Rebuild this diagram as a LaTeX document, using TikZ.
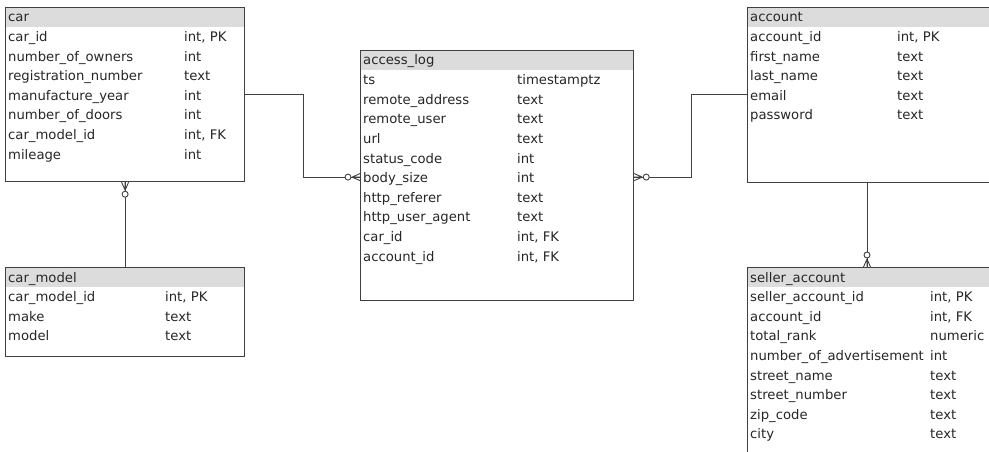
\documentclass[tikz,border=0pt]{standalone}
\usepackage{fontspec}
\setmainfont{DejaVu Sans}
\usepackage{xcolor}
\usetikzlibrary{positioning}

\definecolor{headgray}{HTML}{DCDCDC}
\definecolor{linegray}{HTML}{404040}
\definecolor{textgray}{HTML}{262626}

\tikzset{
  tablebox/.style={draw=linegray, line width=1.2pt, anchor=north west, inner sep=0pt},
  headbar/.style={fill=headgray, anchor=north west, inner sep=0pt, minimum height=20pt},
  field/.style={anchor=base west, inner sep=0pt, text height=13pt, text depth=2pt,
    text=textgray, font=\fontsize{13.2}{16}\selectfont},
  link/.style={draw=linegray, line width=1pt},
  manyend/.pic={
    \draw[linegray, line width=0.9pt] (-8,0) -- (0,-3.5) (-8,0) -- (0,0) (-8,0) -- (0,3.5);
    \draw[linegray, line width=0.9pt, fill=white] (-12,0) circle[radius=3pt];
  }
}

\begin{document}
\begin{tikzpicture}[x=1pt, y=-1pt]
  \useasboundingbox (0,0) rectangle (989,452);
  \clip (0,0) rectangle (989,452);

  % car
  \node[headbar, minimum width=239pt] (car-h) at (5,7) {};
  \node[tablebox, minimum width=239pt, minimum height=174pt] (car) at (5,7) {};
  \node[field] (car-0) at (8,22) {car};
  \foreach \f/\t [count=\i] in {car\_id/{int, PK}, number\_of\_owners/int,
      registration\_number/text, manufacture\_year/int, number\_of\_doors/int,
      car\_model\_id/{int, FK}, mileage/int}
  {
    \node[field] (car-\i) at (8,{22+19.6*\i}) {\f};
    \node[field] (car-\i-t) at (184,{22+19.6*\i}) {\t};
  }

  % car_model
  \node[headbar, minimum width=239pt] (carmodel-h) at (5,267) {};
  \node[tablebox, minimum width=239pt, minimum height=89pt] (carmodel) at (5,267) {};
  \node[field] (carmodel-0) at (8,282) {car\_model};
  \foreach \f/\t [count=\i] in {car\_model\_id/{int, PK}, make/text, model/text}
  {
    \node[field] (carmodel-\i) at (8,{282+19.6*\i}) {\f};
    \node[field] (carmodel-\i-t) at (165,{282+19.6*\i}) {\t};
  }

  % access_log
  \node[headbar, minimum width=273pt] (alog-h) at (360,50) {};
  \node[tablebox, minimum width=273pt, minimum height=250pt] (alog) at (360,50) {};
  \node[field] (alog-0) at (363,65) {access\_log};
  \foreach \f/\t [count=\i] in {ts/timestamptz, remote\_address/text, remote\_user/text,
      url/text, status\_code/int, body\_size/int, http\_referer/text,
      http\_user\_agent/text, car\_id/{int, FK}, account\_id/{int, FK}}
  {
    \node[field] (alog-\i) at (363,{65+19.6*\i}) {\f};
    \node[field] (alog-\i-t) at (517,{65+19.6*\i}) {\t};
  }

  % account
  \node[headbar, minimum width=300pt] (account-h) at (747,7) {};
  \node[tablebox, minimum width=300pt, minimum height=175pt] (account) at (747,7) {};
  \node[field] (account-0) at (750,22) {account};
  \foreach \f/\t [count=\i] in {account\_id/{int, PK}, first\_name/text, last\_name/text,
      email/text, password/text}
  {
    \node[field] (account-\i) at (750,{22+19.6*\i}) {\f};
    \node[field] (account-\i-t) at (897,{22+19.6*\i}) {\t};
  }

  % seller_account
  \node[headbar, minimum width=300pt] (seller-h) at (747,267) {};
  \node[tablebox, minimum width=300pt, minimum height=220pt] (seller) at (747,267) {};
  \node[field] (seller-0) at (750,282) {seller\_account};
  \foreach \f/\t [count=\i] in {seller\_account\_id/{int, PK}, account\_id/{int, FK},
      total\_rank/numeric, number\_of\_advertisement/int, street\_name/text,
      street\_number/text, zip\_code/text, city/text}
  {
    \node[field] (seller-\i) at (750,{282+19.6*\i}) {\f};
    \node[field] (seller-\i-t) at (930,{282+19.6*\i}) {\t};
  }

  % relationships
  \draw[link] (car.south) -- (carmodel.north);
  \path (car.south) pic[rotate=90] {manyend};

  \draw[link] (car-4 -| car.east) -- ++(58,0) |- (alog-6 -| alog.west);
  \path (alog-6 -| alog.west) pic {manyend};

  \draw[link] (alog-6 -| alog.east) -- ++(57,0) |- (account-4 -| account.west);
  \path (alog-6 -| alog.east) pic[rotate=180] {manyend};

  \draw[link] ([xshift=120pt]account.south west) -- ([xshift=120pt]seller.north west);
  \path ([xshift=120pt]seller.north west) pic[rotate=-90] {manyend};
\end{tikzpicture}
\end{document}
